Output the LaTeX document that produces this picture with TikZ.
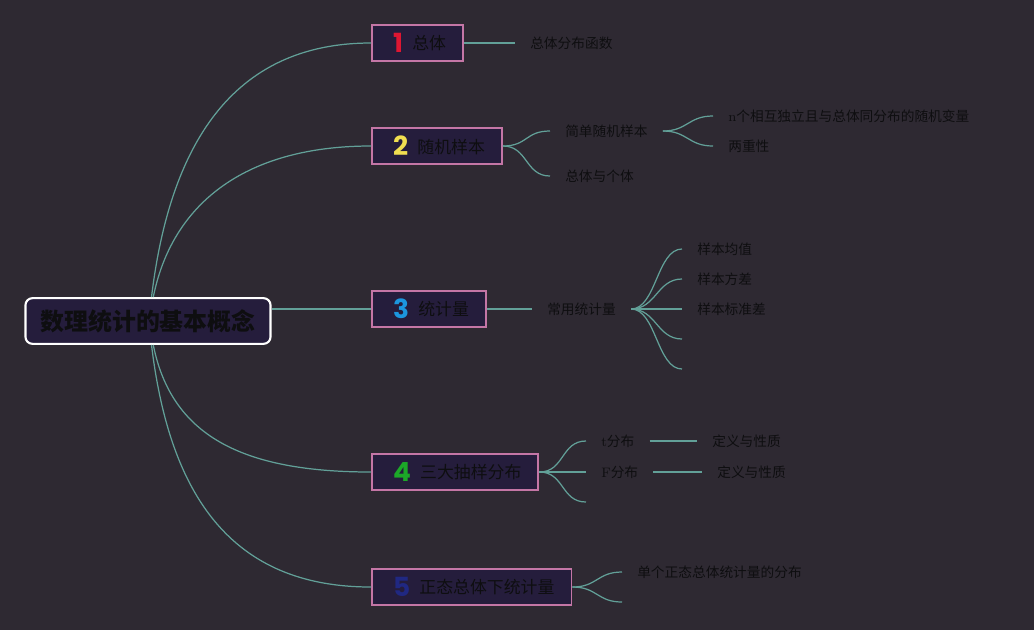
\documentclass[tikz,border=0pt]{standalone}
\usepackage{fontspec}
\newfontfamily\cjk{Noto Sans CJK SC}
\newfontfamily\numfont{Poppins}
\definecolor{bgdark}{RGB}{46,41,50}
\definecolor{boxfill}{RGB}{37,29,60}
\definecolor{boxpink}{RGB}{196,118,166}
\definecolor{branchteal}{RGB}{98,160,152}
\definecolor{inkdark}{RGB}{14,14,16}
\definecolor{numred}{RGB}{222,22,50}
\definecolor{numyellow}{RGB}{240,222,80}
\definecolor{numblue}{RGB}{28,150,222}
\definecolor{numgreen}{RGB}{28,168,40}
\definecolor{numnavy}{RGB}{32,40,130}
\newcommand\topicnum[2]{\hspace*{2.3pt}\raisebox{-1.6pt}{\numfont\bfseries\fontsize{15}{15}\selectfont\color{#1}#2}\hspace{5.3pt}}

\begin{document}
\begin{tikzpicture}[x=0.02cm,y=-0.02cm,
  branch/.style={draw=branchteal,line width=0.7pt},
  topic/.style={draw=boxpink,fill=boxfill,line width=1.1pt,anchor=west,minimum height=20.4pt,
    inner xsep=9.7pt,font=\cjk\fontsize{9.6}{11}\selectfont,text=inkdark},
  leaf/.style={anchor=west,inner xsep=8.5pt,inner ysep=2pt,font=\cjk\fontsize{7.8}{9}\selectfont,text=inkdark}]

	\fill[bgdark] (0,0) rectangle (1034,630);
	\useasboundingbox (0,0) rectangle (1034,630);

	% central topic
	\node[draw=white,line width=1.2pt,fill=boxfill,rounded corners=4pt,minimum width=139.5pt,minimum height=26pt,
	  font=\cjk\bfseries\fontsize{13.6}{16}\selectfont,text=inkdark] (root) at (148,321) {数理统计的基本概念};

	% main branches
	\node[topic] (total) at (371,43) {\topicnum{numred}{1}总体};
	\node[topic] (sample) at (371,146) {\topicnum{numyellow}{2}随机样本};
	\node[topic] (stat) at (371,309) {\topicnum{numblue}{3}统计量};
	\node[topic] (three) at (371,472) {\topicnum{numgreen}{4}三大抽样分布};
	\node[topic] (normal) at (371,587) {\topicnum{numnavy}{5}正态总体下统计量};

	\draw[branch] ([xshift=2pt]root.north) .. controls +(18,-150) and +(-140,0) .. (total.west);
	\draw[branch] ([xshift=3pt]root.north) .. controls +(18,-90) and +(-130,0) .. (sample.west);
	\draw[branch] (stat.west -| root.east) -- (stat.west);
	\draw[branch] ([xshift=3pt]root.south) .. controls +(18,90) and +(-130,0) .. (three.west);
	\draw[branch] ([xshift=2pt]root.south) .. controls +(18,150) and +(-140,0) .. (normal.west);

	% 1
	\node[leaf] (cdf) at (515,43) {总体分布函数};
	\draw[branch] (total.east) -- (cdf.west);

	% 2
	\node[leaf] (srs) at (550,131) {简单随机样本};
	\node[leaf] (indiv) at (550,176) {总体与个体};
	\draw[branch] (sample.east) .. controls +(25,0) and +(-25,0) .. (srs.west);
	\draw[branch] (sample.east) .. controls +(25,0) and +(-25,0) .. (indiv.west);
	\node[leaf] (iid) at (713,116) {{\rmfamily n}个相互独立且与总体同分布的随机变量};
	\node[leaf] (dual) at (713,146) {两重性};
	\draw[branch] (srs.east) .. controls +(25,0) and +(-25,0) .. (iid.west);
	\draw[branch] (srs.east) .. controls +(25,0) and +(-25,0) .. (dual.west);

	% 3
	\node[leaf] (common) at (532,309) {常用统计量};
	\draw[branch] (stat.east) -- (common.west);
	\foreach \y/\name/\txt in {249/mean/样本均值, 279/var/样本方差, 309/sd/样本标准差} {
		\node[leaf] (\name) at (682,\y) {\txt};
		\draw[branch] (common.east) .. controls +(25,0) and +(-25,0) .. (\name.west);
	}
	\coordinate (stat4) at (682,339);
	\coordinate (stat5) at (682,369);
	\draw[branch] (common.east) .. controls +(25,0) and +(-25,0) .. (stat4);
	\draw[branch] (common.east) .. controls +(25,0) and +(-25,0) .. (stat5);

	% 4
	\node[leaf] (tdist) at (586,441) {{\rmfamily t}分布};
	\node[leaf] (fdist) at (586,472) {{\rmfamily F}分布};
	\coordinate (dist3) at (586,502);
	\draw[branch] (three.east) .. controls +(25,0) and +(-25,0) .. (tdist.west);
	\draw[branch] (three.east) -- (fdist.west);
	\draw[branch] (three.east) .. controls +(25,0) and +(-25,0) .. (dist3);
	\node[leaf] (tdef) at (697,441) {定义与性质};
	\node[leaf] (fdef) at (702,472) {定义与性质};
	\draw[branch] (tdist.east) -- (tdef.west);
	\draw[branch] (fdist.east) -- (fdef.west);

	% 5
	\node[leaf] (single) at (622,572) {单个正态总体统计量的分布};
	\coordinate (norm2) at (622,602);
	\draw[branch] (normal.east) .. controls +(25,0) and +(-25,0) .. (single.west);
	\draw[branch] (normal.east) .. controls +(25,0) and +(-25,0) .. (norm2);

\end{tikzpicture}
\end{document}
